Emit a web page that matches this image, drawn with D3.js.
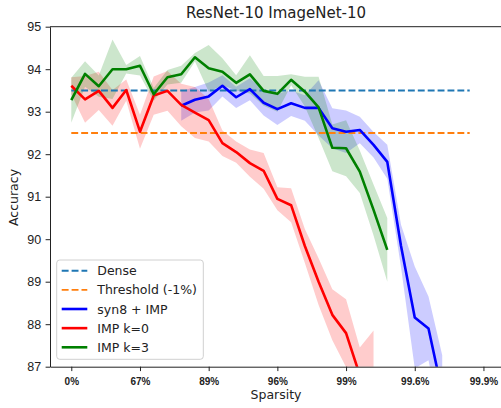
<!DOCTYPE html>
<html>
<head>
<meta charset="utf-8">
<script src="https://cdnjs.cloudflare.com/ajax/libs/d3/7.8.5/d3.min.js"></script>
<style>
  body { margin: 0; background: #fff; }
  svg { font-family: "DejaVu Sans", sans-serif; display: block; }
</style>
</head>
<body>
<div id="chart"></div>
<script>
const FRAME_WIDTH = 501;
const FRAME_HEIGHT = 408;
const MARGINS = {left: 50, top: 26.7, right: -1, bottom: 41.3};
const VIS_WIDTH = FRAME_WIDTH - MARGINS.left - MARGINS.right;
const VIS_HEIGHT = FRAME_HEIGHT - MARGINS.top - MARGINS.bottom;

// pruning steps (x axis is the step index)
const STEPS = [0, 1, 2, 3, 4, 5, 6, 7, 8, 9, 10, 11, 12, 13, 14, 15, 16, 17, 18, 19,
  20, 21, 22, 23, 24, 25, 26, 27, 28, 29];
const X_TICKS = [0, 5, 10, 15, 20, 25, 30];
const X_TICK_LABELS = ["0%", "67%", "89%", "96%", "99%", "99.6%", "99.9%"];
const Y_TICKS = [87, 88, 89, 90, 91, 92, 93, 94, 95];

const DENSE_ACC = 93.5;
const THRESHOLD_ACC = 92.5;

// syn8 + IMP starts at step 8
const SYN_START = 8;
const SYN_MEAN = [93.14, 93.28, 93.36, 93.61, 93.34, 93.53, 93.21, 93.06, 93.20, 93.09,
  93.09, 92.61, 92.53, 92.57, 92.22, 91.82, 89.84, 88.16, 87.90, 86.40];
const SYN_STD = [0.35, 0.3, 0.33, 0.25, 0.25, 0.26, 0.3, 0.37, 0.3, 0.3,
  0.65, 0.47, 0.5, 0.31, 0.3, 0.4, 0.5, 1.2, 0.75, 0.87];

const K0_START = 0;
const K0_MEAN = [93.61, 93.29, 93.49, 93.09, 93.51, 92.53, 93.38, 93.49, 93.16, 92.98,
  92.80, 92.26, 92.05, 91.79, 91.61, 90.95, 90.80, 89.84, 89.00, 88.22,
  87.79, 86.80, 86.40];
const K0_STD = [0.2, 0.55, 0.45, 0.42, 0.25, 0.4, 0.45, 0.47, 0.5, 0.6,
  0.5, 0.3, 0.25, 0.32, 0.42, 0.27, 0.4, 0.4, 0.55, 0.6,
  0.8, 0.65, 1.45];

const K3_START = 0;
const K3_MEAN = [93.27, 93.89, 93.60, 94.00, 94.00, 94.08, 93.41, 93.81, 93.88, 94.28,
  94.02, 93.94, 93.68, 93.88, 93.49, 93.42, 93.75, 93.47, 93.10, 92.15,
  92.14, 91.59, 90.69, 89.75];
const K3_STD = [0.53, 0.3, 0.25, 0.7, 0.1, 0.23, 0.15, 0.17, 0.2, 0.1,
  0.55, 0.32, 0.18, 0.45, 0.35, 0.42, 0.13, 0.35, 0.72, 0.55,
  0.66, 0.5, 0.6, 0.75];

const FRAME = d3.select("#chart")
  .append("svg")
  .attr("width", FRAME_WIDTH)
  .attr("height", FRAME_HEIGHT);

const X_SCALE = d3.scaleLinear()
  .domain([-1.55, 31.35])
  .range([MARGINS.left, MARGINS.left + VIS_WIDTH]);

const Y_SCALE = d3.scaleLinear()
  .domain([87, 95])
  .range([MARGINS.top + VIS_HEIGHT, MARGINS.top]);

FRAME.append("clipPath")
  .attr("id", "plotclip")
  .append("rect")
  .attr("x", MARGINS.left)
  .attr("y", MARGINS.top)
  .attr("width", VIS_WIDTH)
  .attr("height", VIS_HEIGHT);

const PLOT = FRAME.append("g").attr("clip-path", "url(#plotclip)");

function build(start, mean, std) {
  return mean.map((m, i) => ({x: STEPS[start + i], m: m, s: std[i]}));
}

const series = [
  {name: "syn8 + IMP", color: "#0000ff", data: build(SYN_START, SYN_MEAN, SYN_STD)},
  {name: "IMP k=0", color: "#ff0000", data: build(K0_START, K0_MEAN, K0_STD)},
  {name: "IMP k=3", color: "#008000", data: build(K3_START, K3_MEAN, K3_STD)}
];

const band = d3.area()
  .x(d => X_SCALE(d.x))
  .y0(d => Y_SCALE(d.m - d.s))
  .y1(d => Y_SCALE(d.m + d.s));

const line = d3.line()
  .x(d => X_SCALE(d.x))
  .y(d => Y_SCALE(d.m));

// fills sit under all lines
series.forEach(s => {
  PLOT.append("path")
    .attr("d", band(s.data))
    .attr("fill", s.color)
    .attr("fill-opacity", 0.2);
});

// dense + threshold references
[[DENSE_ACC, "#1f77b4"], [THRESHOLD_ACC, "#ff7f0e"]].forEach(r => {
  PLOT.append("line")
    .attr("x1", X_SCALE(STEPS[0]))
    .attr("x2", X_SCALE(STEPS[STEPS.length - 1]))
    .attr("y1", Y_SCALE(r[0]))
    .attr("y2", Y_SCALE(r[0]))
    .attr("stroke", r[1])
    .attr("stroke-width", 1.9)
    .attr("stroke-dasharray", "6.9,3");
});

series.forEach(s => {
  PLOT.append("path")
    .attr("d", line(s.data))
    .attr("fill", "none")
    .attr("stroke", s.color)
    .attr("stroke-width", 2.6)
    .attr("stroke-linejoin", "round");
});

// axes
const xAxis = FRAME.append("g")
  .attr("transform", "translate(0," + (MARGINS.top + VIS_HEIGHT) + ")")
  .call(d3.axisBottom(X_SCALE)
    .tickValues(X_TICKS)
    .tickFormat((d, i) => X_TICK_LABELS[i])
    .tickSize(4.4)
    .tickSizeOuter(0)
    .tickPadding(6.6));
xAxis.selectAll("text")
  .attr("font-size", "10px")
  .attr("font-weight", "bold")
  .attr("fill", "#222");

const yAxis = FRAME.append("g")
  .attr("transform", "translate(" + MARGINS.left + ",0)")
  .call(d3.axisLeft(Y_SCALE)
    .tickValues(Y_TICKS)
    .tickFormat(d3.format("d"))
    .tickSize(4.4)
    .tickSizeOuter(0)
    .tickPadding(4.4));
yAxis.selectAll("text")
  .attr("font-size", "12.5px")
  .attr("fill", "#222");

FRAME.selectAll(".domain, .tick line").attr("stroke", "#222").attr("stroke-width", 1);

// top spine
FRAME.append("line")
  .attr("x1", MARGINS.left)
  .attr("x2", MARGINS.left + VIS_WIDTH)
  .attr("y1", MARGINS.top)
  .attr("y2", MARGINS.top)
  .attr("stroke", "#222")
  .attr("stroke-width", 1);

FRAME.append("text")
  .attr("x", MARGINS.left + VIS_WIDTH / 2)
  .attr("y", 18)
  .attr("text-anchor", "middle")
  .attr("font-size", "15px")
  .attr("fill", "#222")
  .text("ResNet-10 ImageNet-10");

FRAME.append("text")
  .attr("x", MARGINS.left + VIS_WIDTH / 2)
  .attr("y", 399)
  .attr("text-anchor", "middle")
  .attr("font-size", "12.5px")
  .attr("fill", "#222")
  .text("Sparsity");

FRAME.append("text")
  .attr("transform", "translate(17.5,197.5) rotate(-90)")
  .attr("text-anchor", "middle")
  .attr("font-size", "12.5px")
  .attr("fill", "#222")
  .text("Accuracy");

// legend
const legendItems = [
  {name: "Dense", color: "#1f77b4", dash: "6.9,3", w: 1.9},
  {name: "Threshold (-1%)", color: "#ff7f0e", dash: "6.9,3", w: 1.9},
  {name: series[0].name, color: series[0].color, dash: null, w: 2.6},
  {name: series[1].name, color: series[1].color, dash: null, w: 2.6},
  {name: series[2].name, color: series[2].color, dash: null, w: 2.6}
];

const LEGEND = FRAME.append("g");
LEGEND.append("rect")
  .attr("x", 56.7)
  .attr("y", 260)
  .attr("width", 146.6)
  .attr("height", 99.3)
  .attr("rx", 3)
  .attr("fill", "#fff")
  .attr("fill-opacity", 0.8)
  .attr("stroke", "#d0d0d0")
  .attr("stroke-width", 1);

legendItems.forEach((d, i) => {
  const cy = 270.7 + i * 19.15;
  LEGEND.append("line")
    .attr("x1", 61.7)
    .attr("x2", 87.3)
    .attr("y1", cy)
    .attr("y2", cy)
    .attr("stroke", d.color)
    .attr("stroke-width", d.w)
    .attr("stroke-dasharray", d.dash);
  LEGEND.append("text")
    .attr("x", 97.3)
    .attr("y", cy)
    .attr("dy", "0.36em")
    .attr("font-size", "12.5px")
    .attr("fill", "#222")
    .text(d.name);
});
</script>
</body>
</html>
